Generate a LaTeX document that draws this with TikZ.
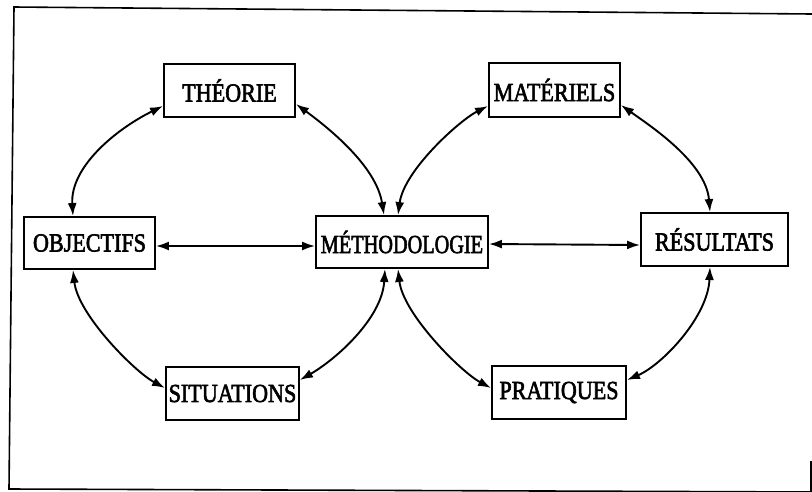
\documentclass[tikz,border=0pt]{standalone}
\usepackage{fontspec}
\setmainfont{Liberation Serif}
\newfontfamily\boxfont[FakeBold=2.5]{Liberation Serif}
\usetikzlibrary{arrows.meta}
\newcommand{\boxtxt}[2][0.85]{\scalebox{#1}[1]{#2}}
\begin{document}
\begin{tikzpicture}[x=1pt,y=-1pt,
  box/.style={draw, line width=1.9pt, inner sep=0pt, font=\boxfont\fontsize{26}{26}\selectfont},
  link/.style={line width=1.9pt, {Latex[length=13pt,width=9pt]}-{Latex[length=13pt,width=9pt]}},
  frame/.style={line width=1.6pt}]
\useasboundingbox (0,0) rectangle (812,491);
% frame
\coordinate (f1) at (14,7);
\coordinate (f2) at (812,14);
\coordinate (f3) at (9,489);
\coordinate (f4) at (812,492);
\coordinate (f5) at (811,461);
\coordinate (f6) at (811,492);
\draw[frame] (f2) -- (f1) -- (f3) -- (f4);
\draw[frame] (f5) -- (f6);
% boxes
\node[box, minimum width=131pt, minimum height=53pt] (T) at (229.5,90.5) {\boxtxt{THÉORIE}};
\node[box, minimum width=131pt, minimum height=54pt] (Ma) at (554.5,90) {\boxtxt{MATÉRIELS}};
\node[box, minimum width=131pt, minimum height=52pt] (O) at (89.5,243) {\boxtxt{OBJECTIFS}};
\node[box, minimum width=172pt, minimum height=52pt] (M) at (402,242) {\boxtxt[0.78]{MÉTHODOLOGIE}};
\node[box, minimum width=147pt, minimum height=53pt] (R) at (714.5,239.5) {\boxtxt{RÉSULTATS}};
\node[box, minimum width=133pt, minimum height=53pt] (S) at (232.5,393.5) {\boxtxt{SITUATIONS}};
\node[box, minimum width=134pt, minimum height=53pt] (P) at (559,392.5) {\boxtxt{PRATIQUES}};
% anchor points
\coordinate (T1) at ([yshift=-15.5pt]T.west);
\coordinate (T2) at ([yshift=-13.5pt]T.east);
\coordinate (O1) at ([xshift=-16.5pt]O.north);
\coordinate (O2) at ([xshift=-16.5pt]O.south);
\coordinate (S1) at ([yshift=5.5pt]S.west);
\coordinate (S2) at ([yshift=13.5pt]S.east);
\coordinate (M1) at ([xshift=-18pt]M.north);
\coordinate (M2) at ([xshift=-17pt]M.south);
\coordinate (M3) at ([xshift=-4pt]M.north);
\coordinate (M4) at ([xshift=-4pt]M.south);
\coordinate (Ma1) at ([yshift=-16pt]Ma.west);
\coordinate (Ma2) at ([yshift=-15pt]Ma.east);
\coordinate (R1) at ([xshift=-4.5pt]R.north);
\coordinate (R2) at ([xshift=-4.5pt]R.south);
\coordinate (P1) at ([yshift=12.5pt]P.east);
\coordinate (P2) at ([yshift=4.5pt]P.west);
% left loop
\draw[link] (T1) .. controls +(-45,22) and +(-3,-50) .. (O1);
\draw[link] (T2) .. controls +(30,22) and +(-8,-50) .. (M1);
\draw[link] (O2) .. controls +(5,45) and +(-30,-16) .. (S1);
\draw[link] (S2) .. controls +(35,-20) and +(-3,50) .. (M2);
% right loop
\draw[link] (M3) .. controls +(6,-45) and +(-28,14) .. (Ma1);
\draw[link] (Ma2) .. controls +(28,20) and +(-4,-50) .. (R1);
\draw[link] (R2) .. controls +(-2,50) and +(35,-15) .. (P1);
\draw[link] (P2) .. controls +(-30,-16) and +(5,45) .. (M4);
% horizontal
\draw[link] ([yshift=-3pt]O.east) -- ([yshift=-4pt]M.west);
\draw[link] ([yshift=-2pt]M.east) -- ([yshift=-5.5pt]R.west);
\end{tikzpicture}
\end{document}
